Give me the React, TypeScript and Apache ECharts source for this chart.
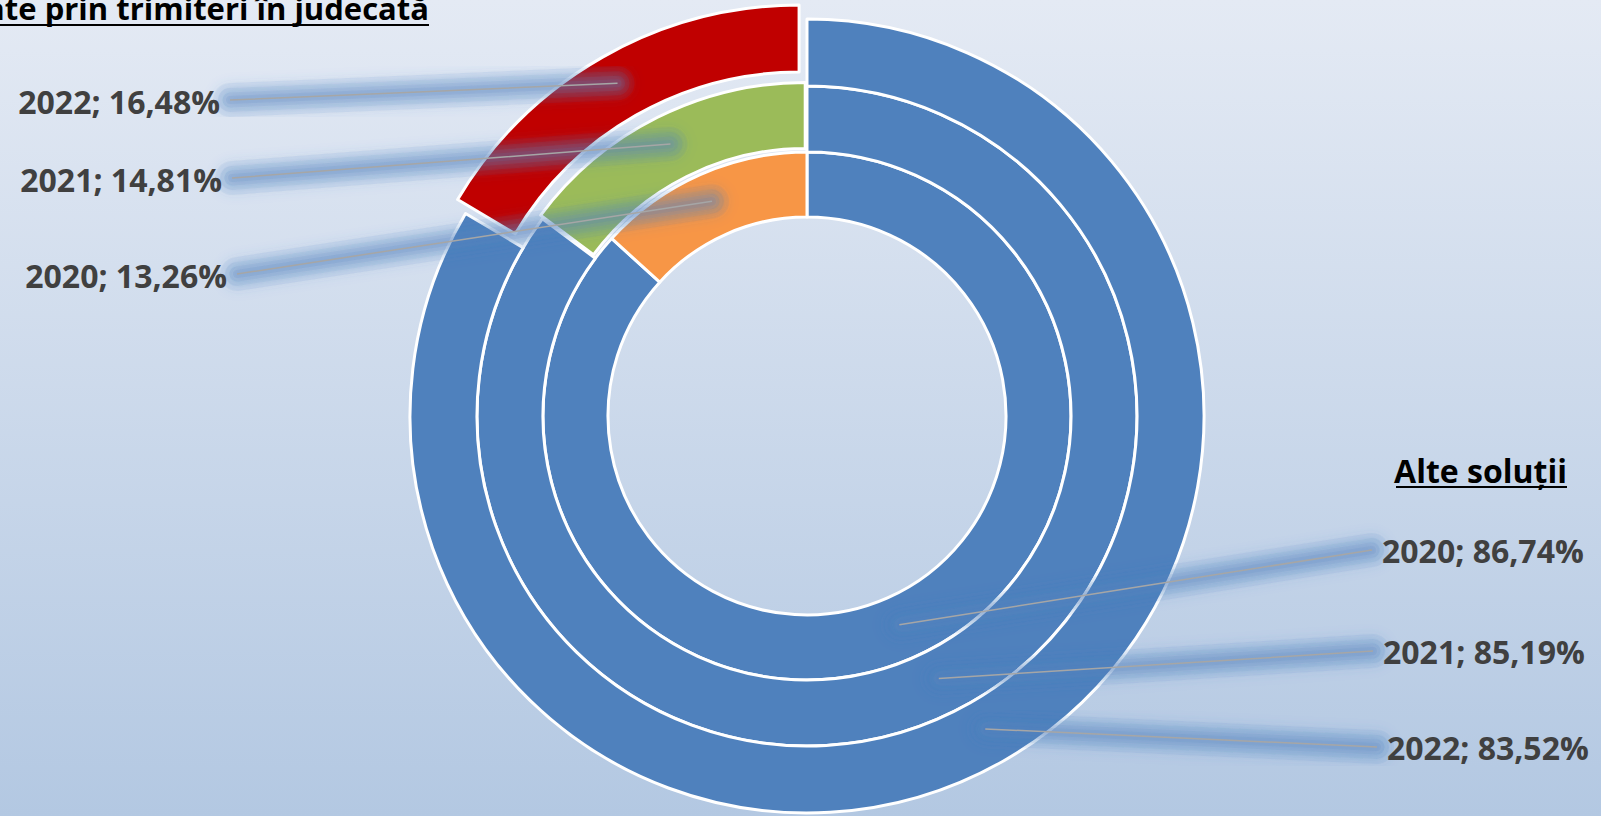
import React, { useEffect, useRef } from 'react';
import * as echarts from 'echarts';

const years = ['2020', '2021', '2022'];
const categories = ['Alte soluții', 'Trimiteri în judecată'];
const alteSolutii = [86.74, 85.19, 83.52];
const trimiteri = [13.26, 14.81, 16.48];
const trimiteriColors = ['#f79646', '#9bbb59', '#c00000'];
const alteColor = '#4f81bd';
const titleTrimiteri = 'Cauze soluționate prin trimiteri în judecată';
const titleAlte = 'Alte soluții';

const CENTER = [807, 416];
const RADII = [
  [199, 264],
  [264, 330],
  [330, 397],
];
const OFFSETS = [0, 4, 16];
const LEFT_LABELS = [
  [227, 275],
  [222, 179],
  [220, 101],
];
const RIGHT_LABELS = [
  [1382, 550],
  [1383, 651],
  [1387, 747],
];
// glow layers (width, alpha) to imitate a soft blurred shadow under leader lines
const GLOW_LAYERS = [
  [34, 0.08],
  [24, 0.1],
  [15, 0.12],
  [8, 0.12],
];

const FONT = '"Open Sans", Lato, sans-serif';

function fmt(v: number) {
  return v.toFixed(2).replace('.', ',') + '%';
}

function anchor(ring: number, j: number) {
  const vals = [alteSolutii[ring], trimiteri[ring]];
  const total = vals[0] + vals[1];
  const before = j === 0 ? 0 : vals[0];
  const mid = (before + vals[j] / 2) / total;
  const a = ((90 - 360 * mid) * Math.PI) / 180;
  const [r0, r1] = RADII[ring];
  const f = j === 1 ? 0.55 : 0.45;
  const off = j === 1 ? OFFSETS[ring] : 0;
  const r = r0 + (r1 - r0) * f + off;
  return [CENTER[0] + r * Math.cos(a), CENTER[1] - r * Math.sin(a)];
}

function layoutFor(ring: number) {
  return (p: any) => {
    const j = p.dataIndex;
    const a = anchor(ring, j);
    if (j === 1) {
      const [x, y] = LEFT_LABELS[ring];
      const end = [x + 10, y - 1];
      return {
        x,
        y,
        align: 'right',
        verticalAlign: 'middle',
        labelLinePoints: [a, [(a[0] + end[0]) / 2, (a[1] + end[1]) / 2], end],
      };
    }
    const [x, y] = RIGHT_LABELS[ring];
    const end = [x - 10, y];
    return {
      x,
      y,
      align: 'left',
      verticalAlign: 'middle',
      labelLinePoints: [a, [(a[0] + end[0]) / 2, (a[1] + end[1]) / 2], end],
    };
  };
}

function ringData(i: number, colored: boolean) {
  return [
    {
      name: categories[0],
      value: alteSolutii[i],
      itemStyle: colored ? { color: alteColor } : undefined,
    },
    {
      name: categories[1],
      value: trimiteri[i],
      selected: colored && OFFSETS[i] > 0,
      itemStyle: colored ? { color: trimiteriColors[i] } : undefined,
    },
  ];
}

function buildSeries() {
  const main: any[] = [];
  const glow: any[] = [];
  const text: any[] = [];
  years.forEach((year, i) => {
    const common = {
      type: 'pie',
      radius: RADII[i],
      center: CENTER,
      startAngle: 90,
      clockwise: true,
      avoidLabelOverlap: false,
    };
    main.push({
      ...common,
      name: year,
      z: 2,
      selectedMode: 'single',
      selectedOffset: OFFSETS[i],
      itemStyle: { borderColor: '#ffffff', borderWidth: 3 },
      select: { itemStyle: { borderColor: '#ffffff', borderWidth: 3 } },
      emphasis: { disabled: true },
      label: { show: false },
      labelLine: { show: false },
      data: ringData(i, true),
    });
    const labelBase = {
      show: true,
      position: 'outside',
      fontFamily: FONT,
      fontWeight: 'bold',
      fontSize: 32,
      formatter: (p: any) => `${year}; ${fmt(p.value)}`,
    };
    GLOW_LAYERS.forEach(([w, alpha], k) => {
      glow.push({
        ...common,
        name: `${year} glow ${k}`,
        z: 3,
        silent: true,
        itemStyle: { color: 'rgba(0,0,0,0)', borderWidth: 0 },
        emphasis: { disabled: true },
        label: { ...labelBase, color: 'rgba(0,0,0,0)' },
        labelLine: {
          show: true,
          lineStyle: {
            width: w,
            color: `rgba(79,129,189,${alpha})`,
            shadowBlur: 12,
            shadowColor: 'rgba(79,129,189,1)',
            cap: 'round',
          },
        },
        labelLayout: layoutFor(i),
        data: ringData(i, false),
      });
    });
    text.push({
      ...common,
      name: year + ' text',
      z: 4,
      silent: true,
      itemStyle: { color: 'rgba(0,0,0,0)', borderWidth: 0 },
      emphasis: { disabled: true },
      label: { ...labelBase, color: '#404040' },
      labelLine: {
        show: true,
        lineStyle: { width: 1.5, color: '#a6a6a6' },
      },
      labelLayout: layoutFor(i),
      data: ringData(i, false),
    });
  });
  return [...main, ...glow, ...text];
}

export default function App() {
  const ref = useRef<HTMLDivElement>(null);
  useEffect(() => {
    if (!ref.current) return;
    const chart = echarts.init(ref.current, null, { renderer: 'svg' });
    chart.setOption({
      animation: false,
      backgroundColor: 'transparent',
      series: buildSeries(),
      graphic: [
        {
          type: 'text',
          z: 10,
          style: {
            text: titleTrimiteri,
            x: 429,
            y: 7.5,
            align: 'right',
            verticalAlign: 'middle',
            fontFamily: FONT,
            fontWeight: 'bold',
            fontSize: 31,
            fill: '#000000',
          },
        },
        {
          type: 'line',
          z: 10,
          shape: { x1: 0, y1: 25, x2: 429, y2: 25 },
          style: { stroke: '#000000', lineWidth: 2 },
        },
        {
          type: 'text',
          z: 10,
          style: {
            text: titleAlte,
            x: 1567,
            y: 470,
            align: 'right',
            verticalAlign: 'middle',
            fontFamily: FONT,
            fontWeight: 'bold',
            fontSize: 32,
            fill: '#000000',
          },
        },
        {
          type: 'line',
          z: 10,
          shape: { x1: 1396, y1: 487, x2: 1567, y2: 487 },
          style: { stroke: '#000000', lineWidth: 2 },
        },
      ],
    });
    return () => chart.dispose();
  }, []);
  return (
    <div
      ref={ref}
      style={{
        position: 'fixed',
        left: 0,
        top: 0,
        width: 1601,
        height: 816,
        background: 'linear-gradient(to bottom, #e4eaf4 0%, #b3c8e2 100%)',
      }}
    />
  );
}
